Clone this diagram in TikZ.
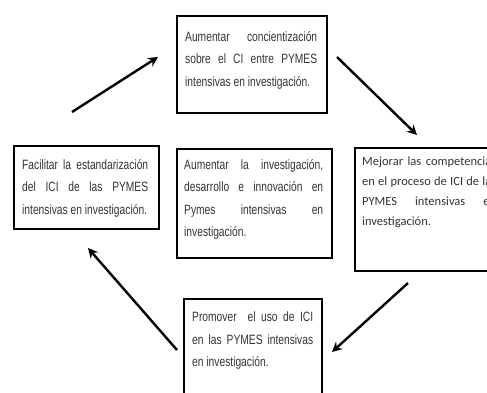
\documentclass[tikz,border=0pt]{standalone}
\usepackage{fontspec}
\newfontfamily\narrowfont{Liberation Sans}[FakeStretch=0.76]
\newfontfamily\calibfont{Carlito}
\usetikzlibrary{arrows.meta}
\tikzset{
  box/.style={draw=black, line width=2.2pt, anchor=north west, inner sep=0pt},
  boxtext/.style={anchor=north west, inner sep=0pt, align=justify, text=black!80,
    font=\narrowfont\fontsize{13.5}{22.5}\selectfont},
  calibtext/.style={anchor=north west, inner sep=0pt, align=justify, text=black!80,
    font=\calibfont\fontsize{12.5}{20}\selectfont},
  flow/.style={line width=2.4pt, -{Stealth[length=10pt,width=10pt,inset=3.5pt]}}
}
\begin{document}
\begin{tikzpicture}[x=1pt,y=-1pt]
\useasboundingbox (0,0) rectangle (487,392);
\clip (0,0) rectangle (487,392);
% boxes
\node[box, minimum width=150pt, minimum height=97pt] (topbox) at (176,15) {};
\node[box, minimum width=145pt, minimum height=83pt] (leftbox) at (13,145) {};
\node[box, minimum width=155pt, minimum height=109pt] (centerbox) at (176,148) {};
\node[box, minimum width=150pt, minimum height=123pt] (rightbox) at (354,147) {};
\node[box, minimum width=138pt, minimum height=110pt] (bottombox) at (183,298) {};
% texts
\node[boxtext, text width=132pt] (toptext) at (185,31)
  {Aumentar concientización\linebreak sobre el CI entre PYMES\linebreak intensivas en investigación.};
\node[boxtext, text width=126pt] (lefttext) at (22,159)
  {Facilitar la estandarización\linebreak del ICI de las PYMES\linebreak intensivas en investigación.};
\node[boxtext, text width=139pt] (centertext) at (184,159)
  {Aumentar la investigación,\linebreak desarrollo e innovación en\linebreak Pymes intensivas en\linebreak investigación.};
\node[calibtext, text width=134pt] (righttext) at (362,157)
  {Mejorar las competencias\linebreak en el proceso de ICI de las\linebreak PYMES intensivas en\linebreak investigación.};
\node[boxtext, text width=121pt] (bottomtext) at (192,312)
  {Promover\ \ el uso de ICI\linebreak en las PYMES intensivas\linebreak en investigación.};
% arrow end points
\coordinate (a1s) at (72,112);  \coordinate (a1e) at (158,57);
\coordinate (a2s) at (337,57);  \coordinate (a2e) at (417,135);
\coordinate (a3s) at (408,283); \coordinate (a3e) at (332,352);
\coordinate (a4s) at (177,350); \coordinate (a4e) at (88,248);
\draw[flow] (a1s) -- (a1e);
\draw[flow] (a2s) -- (a2e);
\draw[flow] (a3s) -- (a3e);
\draw[flow] (a4s) -- (a4e);
\end{tikzpicture}
\end{document}
